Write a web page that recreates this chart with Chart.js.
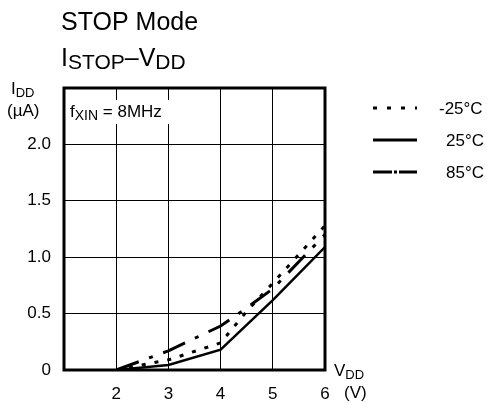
<!DOCTYPE html>
<html>
<head>
<meta charset="utf-8">
<script src="https://cdn.jsdelivr.net/npm/chart.js@4/dist/chart.umd.min.js"></script>
<style>
  html, body { margin: 0; padding: 0; background: #fff; }
  #chart { display: block; }
</style>
</head>
<body>
<canvas id="chart" width="488" height="403"></canvas>
<script>
// Data
const vdd = [2, 3, 4, 4.5, 5, 6];
const iStopMinus25 = [0, 0.09, 0.24, 0.52, 0.77, 1.28];
const iStop25 = [0, 0.045, 0.18, 0.40, 0.62, 1.09];
const iStop85 = [0, 0.17, 0.39, 0.55, 0.72, 1.20];

const xTicks = [2, 3, 4, 5, 6];
const yTickLabels = { 0: "0", 0.5: "0.5", 1: "1.0", 1.5: "1.5", 2: "2.0" };
const legendLabels = ["-25\u00B0C", "25\u00B0C", "85\u00B0C"];

const FONT = "'Liberation Sans', Arial, sans-serif";

function toPoints(ys){
    return vdd.map((x, i) => ({ x: x, y: ys[i] }));
}

// draw text with subscript parts: [text, size, dy]
function drawParts(ctx, parts, x, y){
    ctx.textAlign = "left";
    ctx.textBaseline = "alphabetic";
    parts.forEach(p => {
        ctx.font = p[1] + "px " + FONT;
        ctx.fillText(p[0], x, y + (p[2] || 0));
        x += ctx.measureText(p[0]).width;
    });
}

const decorPlugin = {
    id: "decor",
    afterDraw(chart){
        const ctx = chart.ctx;
        const a = chart.chartArea;
        ctx.save();
        ctx.fillStyle = "#000";

        // frame
        ctx.strokeStyle = "#000";
        ctx.lineWidth = 3;
        ctx.setLineDash([]);
        ctx.strokeRect(a.left, a.top, a.right - a.left, a.bottom - a.top);

        // titles
        drawParts(ctx, [["STOP Mode", 25]], 61, 30);
        drawParts(ctx, [["I", 25], ["STOP", 21, 3], ["\u2013V", 25], ["DD", 21, 3]], 61, 66);

        // axis labels
        drawParts(ctx, [["I", 17], ["DD", 13, 3]], 11, 94);
        drawParts(ctx, [["(\u00B5A)", 17]], 7, 116);
        drawParts(ctx, [["V", 17], ["DD", 13, 3]], 334, 376);
        drawParts(ctx, [["(V)", 17]], 344, 398);

        // condition label with white box over grid
        ctx.fillStyle = "#fff";
        ctx.fillRect(68, 100, 106, 24);
        ctx.fillStyle = "#000";
        drawParts(ctx, [["f", 17], ["XIN", 14, 3], [" = 8MHz", 17]], 70, 117);

        // legend
        const ly = [108, 140, 172];
        const styles = [
            { dash: [4, 10], w: 3 },
            { dash: [], w: 3 },
            { dash: [19, 2, 3, 2], w: 3 }
        ];
        ly.forEach((y, i) => {
            ctx.beginPath();
            ctx.lineWidth = styles[i].w;
            ctx.setLineDash(styles[i].dash);
            ctx.moveTo(373, y);
            ctx.lineTo(417, y);
            ctx.stroke();
            ctx.setLineDash([]);
            drawParts(ctx, [[legendLabels[i], 17]], i === 0 ? 439 : 446, y + 6);
        });
        ctx.restore();
    }
};

new Chart(document.getElementById("chart"), {
    type: "scatter",
    data: {
        datasets: [
            { label: legendLabels[0], data: toPoints(iStopMinus25), showLine: true, borderColor: "#000", borderWidth: 3, borderDash: [4, 9], pointRadius: 0 },
            { label: legendLabels[1], data: toPoints(iStop25), showLine: true, borderColor: "#000", borderWidth: 2.5, pointRadius: 0 },
            { label: legendLabels[2], data: toPoints(iStop85), showLine: true, borderColor: "#000", borderWidth: 3, borderDash: [24, 11, 4, 11], pointRadius: 0 }
        ]
    },
    options: {
        responsive: false,
        animation: false,
        devicePixelRatio: 1,
        layout: { padding: { left: 0, top: 88, right: 163, bottom: 0 } },
        plugins: { legend: { display: false }, tooltip: { enabled: false } },
        scales: {
            x: {
                type: "linear", min: 1, max: 6,
                afterFit: s => { s.height = 33; },
                ticks: {
                    stepSize: 1, color: "#000", padding: 14, maxRotation: 0,
                    font: { family: FONT, size: 17 },
                    callback: v => xTicks.includes(v) ? String(v) : ""
                },
                grid: { color: "#000", lineWidth: 1, drawTicks: false },
                border: { display: false }
            },
            y: {
                min: 0, max: 2.5,
                afterFit: s => { s.width = 64; },
                ticks: {
                    stepSize: 0.5, color: "#000", padding: 13,
                    font: { family: FONT, size: 17 },
                    callback: v => yTickLabels[v] !== undefined ? yTickLabels[v] : ""
                },
                grid: { color: "#000", lineWidth: 1, drawTicks: false },
                border: { display: false }
            }
        }
    },
    plugins: [decorPlugin]
});
</script>
</body>
</html>
